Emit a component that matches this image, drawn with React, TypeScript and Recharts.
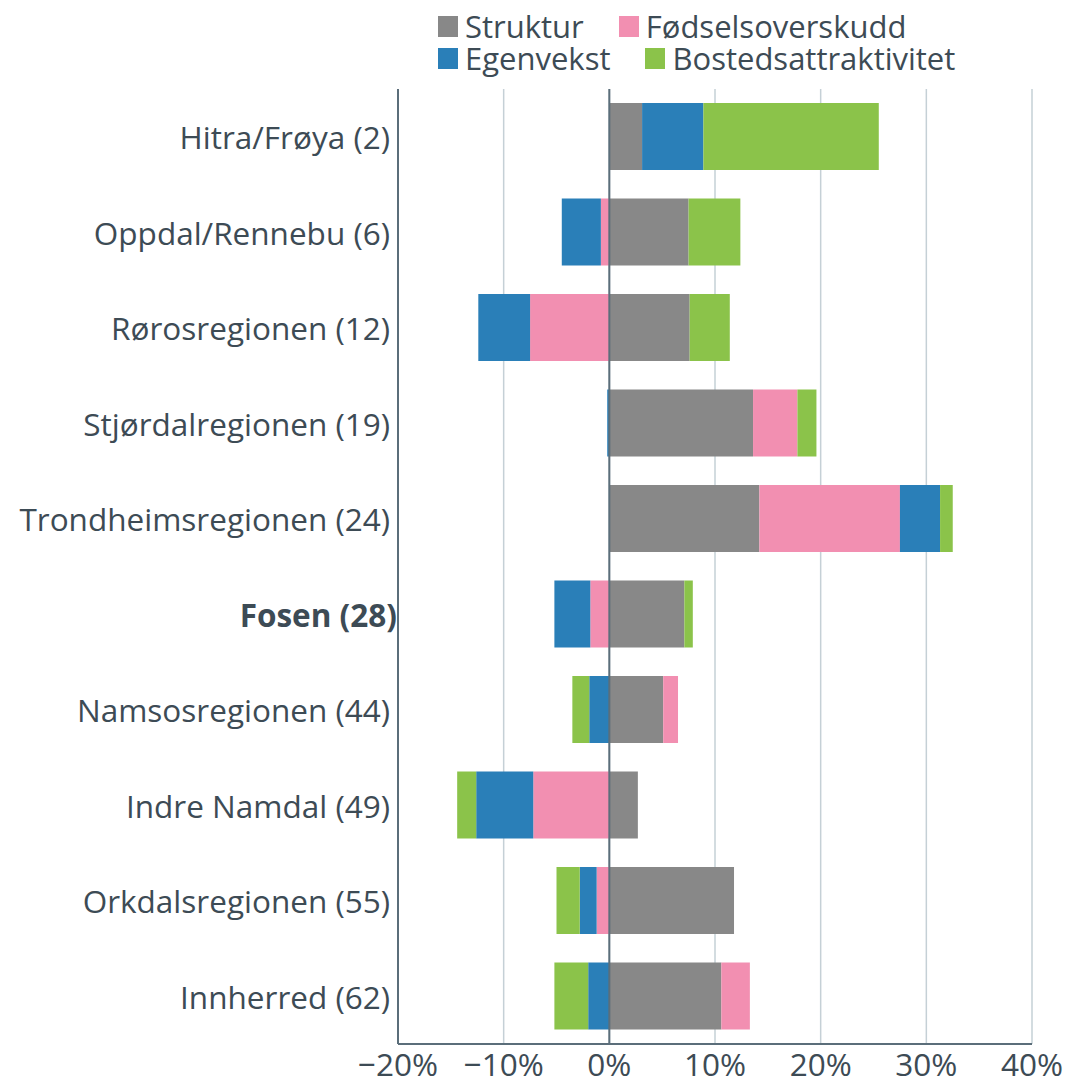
import { BarChart, Bar, XAxis, YAxis, CartesianGrid, ReferenceLine } from "recharts";

const regions = [
  "Hitra/Frøya (2)",
  "Oppdal/Rennebu (6)",
  "Rørosregionen (12)",
  "Stjørdalregionen (19)",
  "Trondheimsregionen (24)",
  "Fosen (28)",
  "Namsosregionen (44)",
  "Indre Namdal (49)",
  "Orkdalsregionen (55)",
  "Innherred (62)",
];
const struktur = [3.1, 7.5, 7.6, 13.6, 14.2, 7.1, 5.1, 2.7, 11.8, 10.6];
const fodsel = [0, -0.8, -7.5, 4.2, 13.3, -1.8, 1.4, -7.2, -1.2, 2.7];
const egenvekst = [5.8, -3.7, -4.9, -0.2, 3.8, -3.4, -1.9, -5.4, -1.6, -2.0];
const bosted = [16.6, 4.9, 3.8, 1.8, 1.2, 0.8, -1.6, -1.8, -2.2, -3.2];
const xTicks = [-20, -10, 0, 10, 20, 30, 40];

const series = [
  { key: "struktur", name: "Struktur", color: "#888888" },
  { key: "fodsel", name: "Fødselsoverskudd", color: "#f28fb1" },
  { key: "egenvekst", name: "Egenvekst", color: "#2a7fb8" },
  { key: "bosted", name: "Bostedsattraktivitet", color: "#8bc34a" },
];

const data = regions.map((region, i) => ({
  region,
  struktur: struktur[i],
  fodsel: fodsel[i],
  egenvekst: egenvekst[i],
  bosted: bosted[i],
}));

const TEXT = "#3d4b55";
const FONT = "'Open Sans', sans-serif";
const FS = 31.5;

const fmt = (v: number) => (v < 0 ? "\u2212" + Math.abs(v) : String(v)) + "%";

function RegionTick({ x, y, payload }: any) {
  const bold = payload.value.startsWith("Fosen");
  return (
    <text
      x={bold ? x + 7 : x}
      y={y}
      textAnchor="end"
      dominantBaseline="central"
      fill={TEXT}
      fontSize={FS}
      fontFamily={FONT}
      fontWeight={bold ? 700 : 400}
    >
      {payload.value}
    </text>
  );
}

function LegendRow({ items }: { items: typeof series }) {
  return (
    <div style={{ display: "flex", gap: 35, alignItems: "center", height: 32 }}>
      {items.map((s) => (
        <div key={s.key} style={{ display: "flex", alignItems: "center", gap: 7 }}>
          <span style={{ width: 20, height: 21, background: s.color, display: "inline-block" }} />
          <span style={{ fontSize: FS - 0.5, color: TEXT, lineHeight: "32px" }}>{s.name}</span>
        </div>
      ))}
    </div>
  );
}

export default function App() {
  return (
    <div
      style={{
        position: "absolute",
        left: 0,
        top: 0,
        width: 1069,
        height: 1082,
        overflow: "hidden",
        background: "#fff",
        fontFamily: FONT,
      }}
    >
      <div style={{ position: "absolute", left: 438, top: 10 }}>
        <LegendRow items={[series[0], series[1]]} />
        <LegendRow items={[series[2], series[3]]} />
      </div>
      <BarChart
        width={1069}
        height={1100}
        data={data}
        layout="vertical"
        stackOffset="sign"
        barSize={67}
        margin={{ top: 89, right: 37, bottom: 0, left: 0 }}
      >
        <CartesianGrid horizontal={false} stroke="#c5d0d6" strokeWidth={1.5} />
        <XAxis
          type="number"
          domain={[-20, 40]}
          ticks={xTicks}
          tickFormatter={fmt}
          height={56}
          tickLine={false}
          tickMargin={4}
          axisLine={{ stroke: "#5b6e7a", strokeWidth: 2 }}
          tick={{ fill: TEXT, fontSize: FS, fontFamily: FONT }}
          interval={0}
        />
        <YAxis
          type="category"
          dataKey="region"
          width={398}
          tickLine={false}
          axisLine={{ stroke: "#5b6e7a", strokeWidth: 2 }}
          tick={<RegionTick />}
          interval={0}
        />
        <ReferenceLine x={0} stroke="#5b6e7a" strokeWidth={2} />
        {series.map((s) => (
          <Bar
            key={s.key}
            dataKey={s.key}
            name={s.name}
            stackId="a"
            fill={s.color}
            isAnimationActive={false}
          />
        ))}
      </BarChart>
    </div>
  );
}
